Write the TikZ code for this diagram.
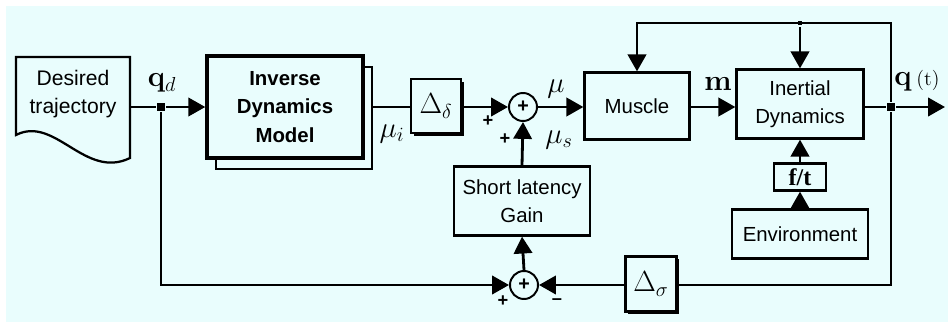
\documentclass[tikz,border=0pt]{standalone}
\usepackage[no-math]{fontspec}
\setmainfont{Liberation Sans}
\newfontfamily\timesfont{Liberation Serif}
\usetikzlibrary{arrows.meta,shadows}
\definecolor{bgcyan}{HTML}{E9FDFD}
\tikzset{
	blk/.style={draw, fill=bgcyan, line width=1.6pt, align=center, inner sep=0pt, font=\fontsize{14.5}{20}\selectfont},
	dbox/.style={blk, drop shadow={shadow xshift=2pt, shadow yshift=-2pt, fill=black, opacity=1}, font=\fontsize{21}{22}\selectfont},
	sumnode/.style={circle, draw, fill=bgcyan, line width=1.4pt, minimum size=0.7cm, inner sep=0pt, font=\bfseries\fontsize{14}{14}\selectfont},
	jnode/.style={fill=black, minimum size=0.2cm, inner sep=0pt},
	sig/.style={-{Triangle[length=12pt,width=13pt]}},
	lbl/.style={font=\fontsize{20}{22}\selectfont},
	sgn/.style={font=\bfseries\fontsize{13}{13}\selectfont, inner sep=0pt}
}
\begin{document}
\begin{tikzpicture}[x=0.025cm, y=-0.025cm, line width=2pt]
	\useasboundingbox (0,0) rectangle (948,322);
	\fill[bgcyan] (6,6) rectangle (948,322);
	% Desired trajectory (document shape)
	\draw[line width=1.6pt, fill=bgcyan] (16,135) -- (16,57) -- (130,57) -- (130,158) .. controls (85,180) and (55,115) .. (16,135) -- cycle;
	\node[align=center, font=\fontsize{15}{20}\selectfont] (traj) at (73,94) {Desired\\trajectory};
	% Forward path blocks
	\node[blk, minimum width=3.9cm, minimum height=2.55cm] (idmback) at (294,118) {};
	\node[blk, line width=2.4pt, minimum width=3.9cm, minimum height=2.55cm, font=\bfseries\fontsize{14.5}{20.5}\selectfont] (idm) at (285,107) {Inverse\\Dynamics\\Model};
	\node[dbox, minimum width=1.25cm, minimum height=1.35cm] (dsg) at (436,106) {$\Delta_\delta$};
	\node[sumnode] (sum1) at (523,107) {+};
	\node[blk, minimum width=2.625cm, minimum height=1.675cm] (muscle) at (637,106) {Muscle};
	\node[blk, minimum width=3.175cm, minimum height=1.725cm] (inert) at (800,104) {Inertial\\Dynamics};
	% Feedback blocks
	\node[blk, minimum width=3.4cm, minimum height=1.725cm] (slg) at (522,201) {Short latency\\Gain};
	\node[sumnode] (sum2) at (524,285) {+};
	\node[dbox, minimum width=1.275cm, minimum height=1.375cm] (dsig) at (651,284) {$\Delta_\sigma$};
	\node[blk, minimum width=1.3cm, minimum height=0.675cm, font=\timesfont\bfseries\fontsize{17}{18}\selectfont] (ft) at (800,177) {f/t};
	\node[blk, minimum width=3.4cm, minimum height=1.225cm] (env) at (800,234) {Environment};
	% Branch points
	\node[jnode] (jin) at (161,107) {};
	\node[jnode] (jout) at (891,107) {};
	\node[jnode, minimum size=0.12cm] (jtop) at (800,23) {};
	\coordinate (trajout) at (130,107);
	\coordinate (qend) at (945,107);
	\coordinate (topr) at (891,23);
	\coordinate (topl) at (637,23);
	\coordinate (botl) at (161,285);
	\coordinate (botr) at (891,285);
	% Forward path
	\draw (trajout) -- (jin);
	\draw[sig] (jin) -- (idm.west);
	\draw (idmback.east |- idm.east) -- (dsg.west |- idm.east);
	\draw[sig] (dsg.east |- sum1.west) -- (sum1.west);
	\draw[sig] (sum1.east) -- (sum1.east -| muscle.west);
	\draw[sig] (muscle.east |- jout) -- (inert.west |- jout);
	\draw (inert.east |- jout) -- (jout);
	\draw[sig] (jout) -- (qend);
	% Feedback to muscle and dynamics
	\draw[sig] (jout) -- (topr) -- (topl) -- (muscle.north);
	\draw[sig] (jtop) -- (inert.north);
	\draw[sig] (env.north) -- (ft.south);
	\draw[sig] (ft.north) -- (inert.south);
	% Position feedback
	\draw (jout) -- (botr) -- (dsig.east |- botr);
	\draw[sig] (dsig.west |- sum2.east) -- (sum2.east);
	\draw[sig] (jin) -- (botl) -- (sum2.west);
	\draw[sig] (sum2.north) -- (slg.south);
	\draw[sig] (slg.north) -- (sum1.south);
	% Signal labels
	\node[lbl] (qdlbl) at (162,83) {$\mathbf{q}_d$};
	\node[lbl] (muilbl) at (392,134) {$\mu_i$};
	\node[lbl] (mulbl) at (556,89) {$\mu$};
	\node[lbl] (muslbl) at (559,140) {$\mu_s$};
	\node[lbl] (mlbl) at (718,84) {$\mathbf{m}$};
	\node[lbl] (qtlbl) at (917,81) {$\mathbf{q}$\,{\fontsize{14}{15}\selectfont$(\mathrm{t})$}};
	% Summing signs
	\foreach \x/\y/\s [count=\k] in {488/121/+, 505/139/+, 503/301/+, 557/302/{--}} {
		\node[sgn] (sgn\k) at (\x,\y) {\s};
	}
\end{tikzpicture}
\end{document}
